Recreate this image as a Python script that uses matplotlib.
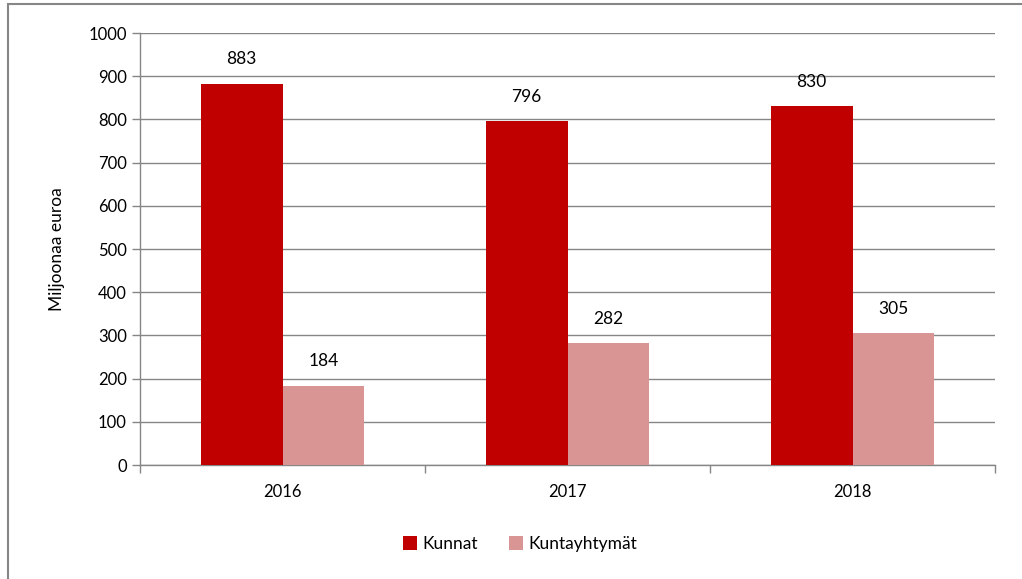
import matplotlib.pyplot as plt
import numpy as np
from matplotlib.patches import Rectangle

plt.rcParams['font.family'] = ['Lato', 'DejaVu Sans']

years = ["2016", "2017", "2018"]
kunnat = [883, 796, 830]
kuntayhtymat = [184, 282, 305]

fig = plt.figure(figsize=(10.22, 5.79), dpi=100)
ax = fig.add_axes([140 / 1022, 1 - 465 / 579, 855 / 1022, 432 / 579])

# gray frame: only its left and top edges fall inside the picture
fig.patches.append(Rectangle((8 / 1022, -0.05), 1.1, 1.05 - 4 / 579 + 0.0,
                             transform=fig.transFigure, fill=False,
                             edgecolor="#868686", linewidth=1.5))

x = np.arange(len(years))
w = 0.287
b1 = ax.bar(x - w / 2, kunnat, w, color="#C00000", label="Kunnat", zorder=3)
b2 = ax.bar(x + w / 2, kuntayhtymat, w, color="#D99594", label="Kuntayhtymät", zorder=3)

for bars in (b1, b2):
    for r in bars:
        ax.text(r.get_x() + r.get_width() / 2, r.get_height() + 56,
                f"{r.get_height():.0f}", ha="center", va="center", fontsize=12.5)

ax.set_xlim(-0.5, 2.5)
ax.set_ylim(0, 1000)
ax.set_yticks(range(0, 1001, 100))
ax.grid(axis="y", color="#868686", linewidth=1, zorder=0)
ax.set_xticks(x)
ax.set_xticklabels(years)
ax.set_xticks([-0.5, 0.5, 1.5, 2.5], minor=True)
ax.tick_params(axis="x", which="major", length=0, labelsize=12, pad=14)
ax.tick_params(axis="x", which="minor", length=6, color="#868686", width=1)
ax.tick_params(axis="y", length=6, color="#868686", width=1, labelsize=12)

for s in ("top", "right"):
    ax.spines[s].set_visible(False)
for s in ("left", "bottom"):
    ax.spines[s].set_color("#868686")
    ax.spines[s].set_linewidth(1)

ax.set_ylabel("Miljoonaa euroa", fontsize=12.5, labelpad=17)

fig.legend(loc="center", bbox_to_anchor=(520 / 1022, 1 - 544 / 579), ncol=2,
           frameon=False, fontsize=12.5, handlelength=0.8, handleheight=0.8,
           handletextpad=0.3, columnspacing=1.8)

fig.savefig("out.png", dpi=100)
